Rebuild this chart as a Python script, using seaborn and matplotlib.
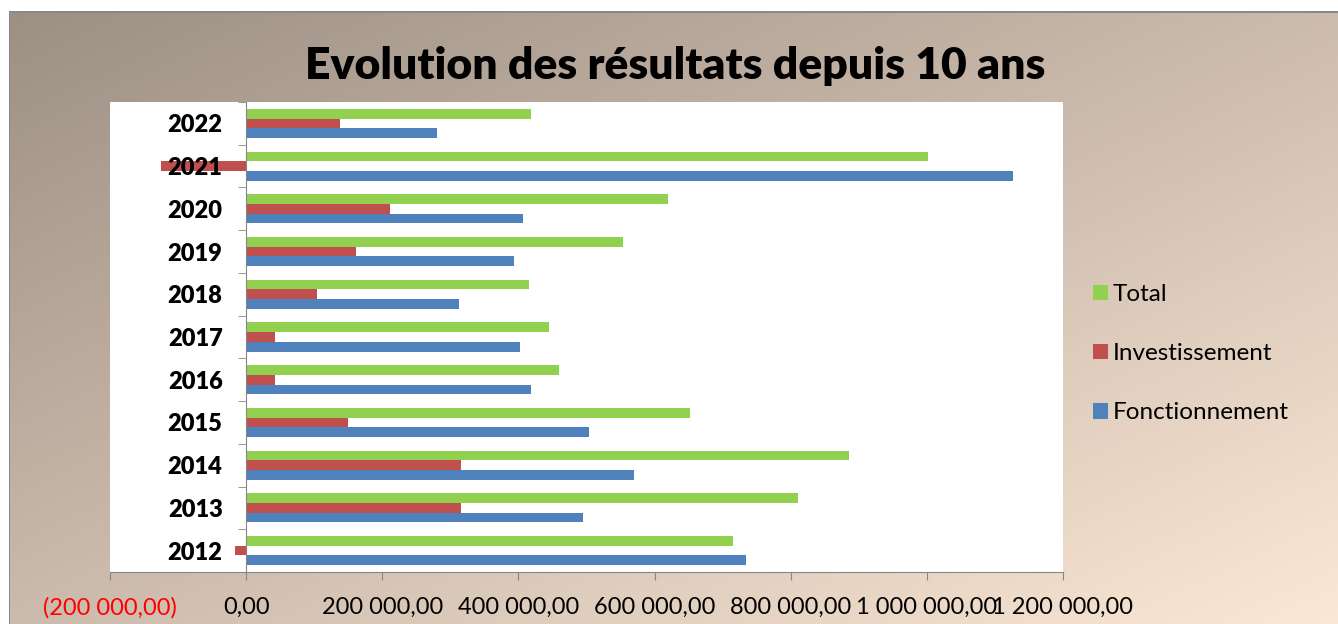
import numpy as np
import pandas as pd
import matplotlib.pyplot as plt
import seaborn as sns

# data
annees = ['2012', '2013', '2014', '2015', '2016', '2017', '2018', '2019', '2020', '2021', '2022']
fonctionnement = [734000, 495000, 570000, 504000, 418000, 403000, 312000, 394000, 407000, 1127000, 280000]
investissement = [-16000, 315000, 315000, 149000, 42000, 42000, 104000, 161000, 212000, -125000, 138000]
total = [715000, 810000, 885000, 652000, 459000, 445000, 416000, 554000, 620000, 1001000, 418000]

series = ['Total', 'Investissement', 'Fonctionnement']
couleurs = ['#92D050', '#C0504D', '#4F81BD']

df = pd.DataFrame({'annee': annees, 'Fonctionnement': fonctionnement,
                   'Investissement': investissement, 'Total': total})
df = df.melt(id_vars='annee', var_name='serie', value_name='valeur')

sns.set_style('white')
plt.rcParams['font.family'] = ['Lato', 'DejaVu Sans']
plt.rcParams['text.color'] = 'black'
plt.rcParams['xtick.labelcolor'] = 'black'
plt.rcParams['ytick.labelcolor'] = 'black'
plt.rcParams['axes.axisbelow'] = 'line'

W, H = 1338, 624
fig = plt.figure(figsize=(W / 100, H / 100), dpi=100)

# background gradient
yy, xx = np.mgrid[0:H, 0:W]
t = (xx / W + yy / H) / 2
c0 = np.array([155, 142, 131]) / 255
c1 = np.array([252, 232, 214]) / 255
img = c0 + (c1 - c0) * t[..., None]
img[:11, :] = 1.0
img[:, :9] = 1.0
img[11:13, 9:] = np.array([136, 136, 136]) / 255
img[11:, 9:10] = np.array([136, 136, 136]) / 255
bg = fig.add_axes([0, 0, 1, 1], zorder=-10)
bg.imshow(img, aspect='auto', interpolation='bilinear')
bg.axis('off')

ax = fig.add_axes([110 / W, 52 / H, 953 / W, 470 / H])
ax.set_facecolor('white')

sns.barplot(data=df, x='valeur', y='annee', hue='serie', orient='h',
            order=annees[::-1], hue_order=series, palette=couleurs,
            width=0.68, gap=0, linewidth=0, saturation=1, errorbar=None, ax=ax)

handles, labels = ax.get_legend_handles_labels()
ax.get_legend().remove()
ax.set_axisbelow(False)

ax.set_xlim(-200000, 1200000)
ax.set_xticks(np.arange(-200000, 1200001, 200000))


def fmt(v):
    s = f"{abs(v):,.2f}".replace(',', ' ').replace('.', ',')
    return f"({s})" if v < 0 else s


ax.set_xticklabels([fmt(v) for v in ax.get_xticks()], fontsize=17)
for lab, v in zip(ax.get_xticklabels(), ax.get_xticks()):
    lab.set_color('red' if v < 0 else 'black')

ax.set_xlabel('')
ax.set_ylabel('')
for s in ['top', 'right']:
    ax.spines[s].set_visible(False)
ax.spines['left'].set_position(('data', 0))
ax.spines['left'].set_color('#868686')
ax.spines['bottom'].set_color('#868686')

ax.tick_params(axis='x', direction='out', length=6, color='#868686', pad=12, bottom=True)
ax.tick_params(axis='y', which='major', length=0, pad=17, labelsize=17)
ax.set_yticks(np.arange(-0.5, 11, 1), minor=True)
ax.tick_params(axis='y', which='minor', direction='out', length=6, color='#868686', left=True)
for lab in ax.get_yticklabels():
    lab.set_fontweight('heavy')
    lab.set_color('black')

fig.text(0.5045, 0.895, 'Evolution des résultats depuis 10 ans', ha='center', va='center',
         fontsize=32, fontweight='heavy', color='black')

fig.legend(handles, labels, loc='center left', bbox_to_anchor=(0.8005, 0.433),
           frameon=False, fontsize=17.5, handlelength=0.6, handleheight=0.6,
           handletextpad=0.2, labelspacing=1.57)

fig.savefig('out.png', dpi=100)
